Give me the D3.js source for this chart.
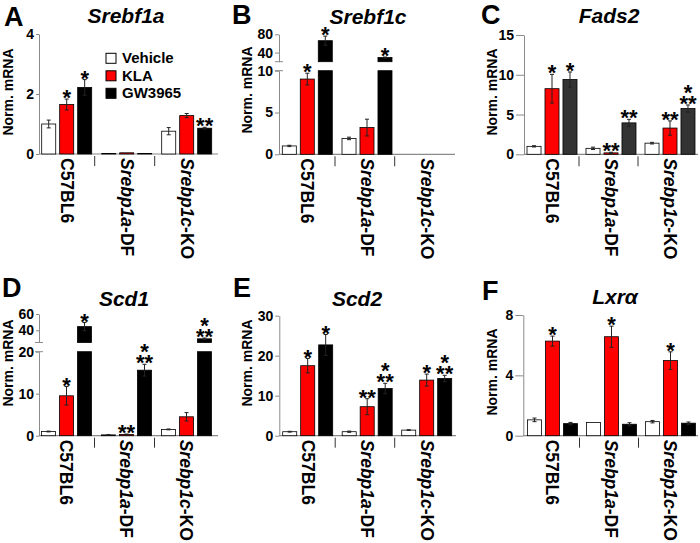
<!DOCTYPE html>
<html><head><meta charset="utf-8">
<script src="https://cdn.jsdelivr.net/npm/d3@7"></script>
<style>body{margin:0;background:#fff}svg{display:block}</style>
</head><body>
<svg id="chart" width="700" height="543"></svg>
<script>
// ---------- DATA ----------
const groups = ["C57BL6", "Srebp1a-DF", "Srebp1c-KO"];
const series = ["Vehicle", "KLA", "GW3965"];

// Srebf1a
const srebf1aMean = [[1.0, 1.65, 2.22], [0.02, 0.04, 0.02], [0.76, 1.28, 0.86]];
const srebf1aErr  = [[0.13, 0.18, 0.26], [0.005, 0.01, 0.005], [0.12, 0.07, 0.03]];
const srebf1aSig  = [["", "*", "*"], ["", "", ""], ["", "", "**"]];
const srebf1aTicks = [0, 2, 4];

// Srebf1c (broken axis)
const srebf1cMean = [[1.0, 9.0, 66], [1.9, 3.2, 29], [null, null, null]];
const srebf1cErr  = [[0.08, 0.7, 10], [0.15, 1.0, 1.2], [0, 0, 0]];
const srebf1cSig  = [["", "*", "*"], ["", "", "*"], ["", "", ""]];
const srebf1cTicksLow = [0, 5, 10];
const srebf1cTicksHigh = [40, 80];

// Fads2
const fads2Mean = [[1.0, 8.25, 9.4], [0.75, 0.18, 3.95], [1.4, 3.3, 5.75]];
const fads2Err  = [[0.08, 1.8, 0.95], [0.15, 0.08, 0.45], [0.1, 0.9, 0.45]];
const fads2Sig  = [["", "*", "*"], ["", "**", "**"], ["", "**", "*/**"]];
const fads2Ticks = [0, 5, 10, 15];

// Scd1 (broken axis)
const scd1Mean = [[1.0, 9.5, 44.5], [0.2, 0.3, 15.6], [1.5, 4.5, 29.5]];
const scd1Err  = [[0.1, 2.2, 5], [0.05, 0.1, 1.4], [0.1, 1.0, 1.0]];
const scd1Sig  = [["", "*", "*"], ["", "**", "*/**"], ["", "", "*/**"]];
const scd1TicksLow = [0, 10, 20];
const scd1TicksHigh = [40, 60];

// Scd2
const scd2Mean = [[1.0, 17.5, 22.7], [1.0, 7.25, 11.8], [1.4, 13.9, 14.3]];
const scd2Err  = [[0.1, 1.8, 2.6], [0.15, 2.0, 1.3], [0.1, 1.5, 0.8]];
const scd2Sig  = [["", "*", "*"], ["", "**", "*/**"], ["", "*", "*/**"]];
const scd2Ticks = [0, 10, 20, 30];

// Lxra
const lxraMean = [[1.05, 6.27, 0.8], [0.87, 6.56, 0.76], [0.93, 4.98, 0.83]];
const lxraErr  = [[0.12, 0.33, 0.08], [0.02, 0.7, 0.1], [0.08, 0.58, 0.08]];
const lxraSig  = [["", "*", ""], ["", "*", ""], ["", "*", ""]];
const lxraTicks = [0, 4, 8];

// ---------- LAYOUT ----------
const FONT = "Arial, 'Liberation Sans', Helvetica, sans-serif";
const colorsStd = ["#ffffff", "#ff0000", "#000000"];
const colorsC = ["#ffffff", "#ff0000", "#333333"];

const panels = [
  {letter:"A", title:"Srebf1a", mean:srebf1aMean, err:srebf1aErr, sig:srebf1aSig, ticks:srebf1aTicks, max:4,
   ax:39, bandStart:34.7, gw:60, base:154, top:34, end:218, tick:3, colors:colorsStd,
   tpos:[126,22.5], lpos:[4,26], ypos:[13,92], legend:true},
  {letter:"B", title:"Srebf1c", mean:srebf1cMean, err:srebf1cErr, sig:srebf1cSig, ticks:srebf1cTicksLow, ticksHigh:srebf1cTicksHigh, max:80,
   brk:{lowMax:10, lowTop:70.7, highMin:20, highBottom:61.7},
   ax:279, bandStart:275.3, gw:59.7, base:154.3, top:34.3, end:455, tick:4, colors:colorsStd,
   tpos:[368,24], lpos:[232,24], ypos:[252,90]},
  {letter:"C", title:"Fads2", mean:fads2Mean, err:fads2Err, sig:fads2Sig, ticks:fads2Ticks, max:15,
   ax:524, bandStart:520, gw:59, base:154.3, top:35, end:698, tick:8, colors:colorsC,
   tpos:[609,23], lpos:[481,24], ypos:[497,92]},
  {letter:"D", title:"Scd1", mean:scd1Mean, err:scd1Err, sig:scd1Sig, ticks:scd1TicksLow, ticksHigh:scd1TicksHigh, max:60,
   brk:{lowMax:20, lowTop:351.7, highMin:25, highBottom:342.5},
   ax:39, bandStart:34.5, gw:60, base:435.7, top:314, end:218, tick:3, colors:colorsStd,
   tpos:[124,306], lpos:[2,297], ypos:[13,363]},
  {letter:"E", title:"Scd2", mean:scd2Mean, err:scd2Err, sig:scd2Sig, ticks:scd2Ticks, max:30,
   ax:279.3, bandStart:275.7, gw:59.5, base:435.7, top:315.7, end:456, tick:4, colors:colorsStd,
   tpos:[357,306], lpos:[233,297], ypos:[252,363]},
  {letter:"F", title:"Lxr\u03B1", mean:lxraMean, err:lxraErr, sig:lxraSig, ticks:lxraTicks, max:8,
   ax:523.3, bandStart:520.5, gw:59, base:435.7, top:315, end:698, tick:8, colors:colorsStd,
   tpos:[615,304], lpos:[482,300], ypos:[497,372]}
];

const svg = d3.select("#chart");
svg.append("rect").attr("width",700).attr("height",543).attr("fill","#fff");

function styleAxis(sel){
  sel.select(".domain").attr("stroke","#8a8a8a");
  sel.selectAll(".tick line").attr("stroke","#8a8a8a");
  sel.selectAll(".tick text").attr("fill","#000").attr("font-size",14)
     .attr("font-weight","bold").attr("font-family",FONT);
}

function drawPanel(p){
  const g = svg.append("g");
  const x = d3.scaleBand().domain(groups).range([p.bandStart, p.bandStart + 3*p.gw]).padding(0);
  const xs = d3.scaleBand().domain(series).range([7, 57]).paddingInner(0.22);

  let yL, yH;
  if (p.brk){
    yL = d3.scaleLinear().domain([0, p.brk.lowMax]).range([p.base, p.brk.lowTop]);
    yH = d3.scaleLinear().domain([p.brk.highMin, p.max]).range([p.brk.highBottom, p.top]);
  } else {
    yL = d3.scaleLinear().domain([0, p.max]).range([p.base, p.top]);
  }
  const yv = v => (p.brk && v > p.brk.lowMax) ? yH(v) : yL(v);
  const fmt = d3.format("d");

  // y axis
  const aL = g.append("g").attr("transform",`translate(${p.ax},0)`)
    .call(d3.axisLeft(yL).tickValues(p.ticks).tickFormat(fmt).tickSize(p.tick).tickSizeOuter(0).tickPadding(2));
  styleAxis(aL);
  if (p.brk){
    const aH = g.append("g").attr("transform",`translate(${p.ax},0)`)
      .call(d3.axisLeft(yH).tickValues(p.ticksHigh).tickFormat(fmt).tickSize(p.tick).tickSizeOuter(0).tickPadding(2));
    styleAxis(aH);
    [p.brk.lowTop, p.brk.highBottom].forEach(yy=>{
      g.append("line").attr("x1",p.ax-4).attr("x2",p.ax+4).attr("y1",yy).attr("y2",yy)
        .attr("stroke","#8a8a8a");
    });
  }

  // x axis baseline
  g.append("line").attr("x1",p.ax).attr("x2",p.end).attr("y1",p.base).attr("y2",p.base)
    .attr("stroke","#8a8a8a").attr("stroke-width",1.2);
  // group separators
  groups.slice(1).forEach(gr=>{
    const sx = x(gr);
    g.append("line").attr("x1",sx).attr("x2",sx).attr("y1",p.base+2).attr("y2",p.base+12)
      .attr("stroke","#333");
  });

  // bars
  groups.forEach((gr, gi)=>{
    series.forEach((s, si)=>{
      const v = p.mean[gi][si];
      if (v === null) return;
      const e = p.err[gi][si];
      const bx = x(gr) + xs(s), bw = xs.bandwidth();
      const fill = p.colors[si];
      if (p.brk && v > p.brk.lowMax){
        g.append("rect").attr("x",bx).attr("y",yL(p.brk.lowMax)).attr("width",bw)
          .attr("height",p.base - yL(p.brk.lowMax)).attr("fill",fill).attr("stroke","#000").attr("stroke-width",0.8);
        g.append("rect").attr("x",bx).attr("y",yH(v)).attr("width",bw)
          .attr("height",yH(p.brk.highMin) - yH(v)).attr("fill",fill).attr("stroke","#000").attr("stroke-width",0.8);
      } else {
        g.append("rect").attr("x",bx).attr("y",yL(v)).attr("width",bw)
          .attr("height",Math.max(0.6, p.base - yL(v))).attr("fill",fill).attr("stroke","#000").attr("stroke-width",0.8);
      }
      // error bar
      const cx = bx + bw/2;
      const yTop = yv(v + e);
      let lo = v - e;
      if (p.brk && v > p.brk.lowMax) lo = Math.max(lo, p.brk.highMin);
      const yBot = yv(Math.max(0, lo));
      if (e > 0.02){
        const ec = "#222";
        g.append("line").attr("x1",cx).attr("x2",cx).attr("y1",yTop).attr("y2",yBot).attr("stroke",ec).attr("stroke-width",1);
        g.append("line").attr("x1",cx-2).attr("x2",cx+2).attr("y1",yTop).attr("y2",yTop).attr("stroke",ec);
        g.append("line").attr("x1",cx-2).attr("x2",cx+2).attr("y1",yBot).attr("y2",yBot).attr("stroke",ec);
      }
      // significance (one text element, stacked lines as tspans)
      const sg = p.sig[gi][si];
      if (sg){
        const lines = sg.split("/");
        const t = g.append("text").attr("x",cx).attr("y",yTop + 6 - (lines.length-1)*11)
          .attr("text-anchor","middle").attr("font-size",22).attr("font-weight","bold")
          .attr("font-family",FONT).attr("fill","#000");
        lines.forEach((ln, li)=>{
          t.append("tspan").attr("x",cx).attr("dy", li === 0 ? 0 : 11).text(ln);
        });
      }
    });
  });

  // group labels (rotated)
  groups.forEach(gr=>{
    const cx = x(gr) + 32;
    const t = g.append("text")
      .attr("transform",`translate(${cx - 6.2},${p.base + 4}) rotate(90)`)
      .attr("font-size",17.5).attr("font-weight","bold").attr("font-family",FONT).attr("fill","#000");
    const m = gr.match(/^(Srebp1[ac])(-.*)$/);
    if (m){ t.append("tspan").attr("font-style","italic").text(m[1]); t.append("tspan").text(m[2]); }
    else t.text(gr);
  });

  // y label
  g.append("text").attr("transform",`translate(${p.ypos[0]},${p.ypos[1]}) rotate(-90)`)
    .attr("text-anchor","middle").attr("font-size",14).attr("font-weight","bold")
    .attr("font-family",FONT).attr("fill","#000").text("Norm. mRNA");

  // title
  g.append("text").attr("x",p.tpos[0]).attr("y",p.tpos[1]).attr("text-anchor","middle")
    .attr("font-size",21).attr("font-weight","bold").attr("font-style","italic")
    .attr("font-family",FONT).attr("fill","#000").text(p.title);
  // panel letter
  g.append("text").attr("x",p.lpos[0]).attr("y",p.lpos[1])
    .attr("font-size",27).attr("font-weight","bold").attr("font-family",FONT).attr("fill","#000").text(p.letter);

  // legend
  if (p.legend){
    series.forEach((s, si)=>{
      const ly = 53.3 + si*17.5;
      g.append("rect").attr("x",106).attr("y",ly).attr("width",10).attr("height",10)
        .attr("fill",colorsStd[si]).attr("stroke","#000").attr("stroke-width",1);
      g.append("text").attr("x",122).attr("y",ly+10).attr("font-size",15).attr("font-weight","bold")
        .attr("font-family",FONT).attr("fill","#000").text(s);
    });
  }
}

panels.forEach(drawPanel);
</script>
</body></html>
